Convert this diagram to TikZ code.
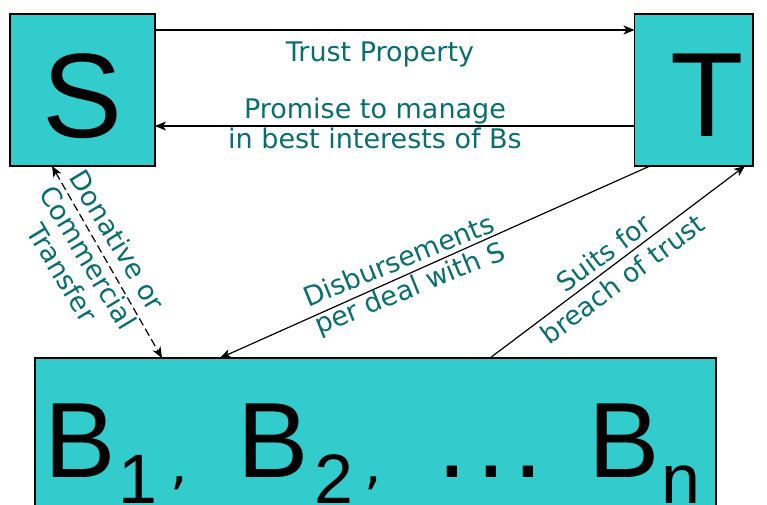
\documentclass[tikz,border=0pt]{standalone}
\usepackage{fontspec}
\setmainfont{DejaVu Sans}
\newfontfamily\letterfont{Liberation Sans}
\usetikzlibrary{arrows.meta,calc}
\definecolor{boxfill}{RGB}{51,204,204}
\definecolor{labelteal}{RGB}{10,110,110}
% place a piece of text at a fixed horizontal offset, taking no width
\newcommand\putat[2]{\makebox[0pt][l]{\hspace*{#1}#2}}
\newcommand\subsz{\fontsize{70}{70}\selectfont}
\newcommand\commasz{\rmfamily\fontsize{55}{55}\selectfont}
\begin{document}
\begin{tikzpicture}[x=1pt,y=1pt,
  >={Stealth[length=11pt,width=9pt,inset=3pt]},
  party/.style={draw=black,line width=1.4pt,fill=boxfill,rectangle,inner sep=0pt,outer sep=0pt},
  flow/.style={line width=1.2pt,->},
  lbl/.style={text=labelteal,font=\fontsize{27}{30}\selectfont,align=center,inner sep=0pt},
  bigletter/.style={font=\letterfont\fontsize{120}{120}\selectfont,inner sep=0pt,anchor=base west},
]
\useasboundingbox (0,0) rectangle (767,-505);

% the three parties
\node[party,minimum width=145pt,minimum height=152pt] (S) at (82.5,-90) {};
\node[party,minimum width=118.5pt,minimum height=152pt] (T) at (693.75,-90) {};
\node[party,minimum width=681pt,minimum height=204pt] (B) at (375.5,-460) {};

\node[bigletter] (Sname) at (42.5,-137.5) {S};
\node[bigletter] (Tname) at (670,-137) {T};
\node[inner sep=0pt,anchor=base west,font=\letterfont\fontsize{107}{107}\selectfont] (Bname) at (44,-477) {%
  \putat{0pt}{B}%
  \putat{73.4pt}{\raisebox{-26pt}{\subsz 1}}%
  \putat{125.8pt}{\raisebox{-6.7pt}{\commasz ,}}%
  \putat{193pt}{B}%
  \putat{269.9pt}{\raisebox{-26pt}{\subsz 2}}%
  \putat{319.8pt}{\raisebox{-6.7pt}{\commasz ,}}%
  \putat{393pt}{.}\putat{432pt}{.}\putat{469pt}{.}%
  \putat{544pt}{B}%
  \putat{616.4pt}{\raisebox{-26pt}{\subsz n}}};

% S <-> T
\draw[flow] ($(S.north east)+(0,-16)$) -- ($(T.north west)+(0,-16)$);
\draw[flow] ($(T.south west)+(0,40)$) -- ($(S.south east)+(0,40)$);
\node[lbl,anchor=base] (tp) at (380,-62) {Trust Property};
\node[lbl] (pm) at (375,-123) {Promise to manage\\in best interests of Bs};

% S <-> beneficiaries
\draw[line width=1.2pt,dash pattern=on 8pt off 4pt,<->]
  ($(S.south west)+(42,0)$) -- ($(B.north west)+(127,0)$);
\node[lbl,rotate=-59] (dc) at (90,-256.5) {Donative or\\[4pt]Commercial\\Transfer};

% T <-> beneficiaries
\draw[flow] ($(T.south west)+(15.5,0)$) -- ($(B.north west)+(185,0)$);
\node[lbl,rotate=22] (db) at (405,-276) {Disbursements\\per deal with S};
\draw[flow] ($(B.north west)+(455,0)$) -- ($(T.south east)+(-8,0)$);
\node[lbl,font=\fontsize{26.5}{32}\selectfont,rotate=36.5] (sb) at (613,-266) {Suits for\\breach of trust};
\end{tikzpicture}
\end{document}
